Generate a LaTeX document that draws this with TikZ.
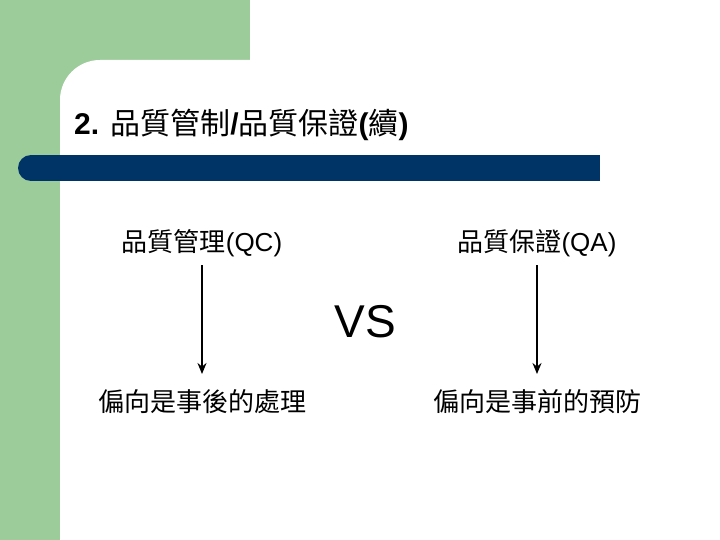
\documentclass[tikz,border=0pt]{standalone}
\usepackage{fontspec}
\setmainfont{Liberation Sans}
\newfontfamily\cjk{Noto Sans CJK TC}
\newfontfamily\cjkm{Noto Sans CJK TC Medium}
\usetikzlibrary{arrows.meta}
\definecolor{grn}{HTML}{9DCC9B}
\definecolor{navy}{HTML}{003366}
\newcommand{\cj}[1]{{\cjk #1}}
\tikzset{lbl/.style={font=\fontsize{26}{30}\selectfont, inner sep=0pt},
 arr/.style={-{Stealth[length=11pt,width=9pt]}, line width=2pt, black}}
\begin{document}
\begin{tikzpicture}[x=1pt,y=-1pt]
\useasboundingbox (0,0) rectangle (720,540);
\fill[white] (0,0) rectangle (720,540);
\fill[grn] (0,0) rectangle (250,100);
\fill[grn] (0,0) rectangle (60,540);
\fill[white, rounded corners=40pt] (60,60) rectangle (800,620);
\fill[navy] (30,155) rectangle (600,181);
\fill[navy] (31,168) circle (13);
\node[font=\fontsize{30}{34}\selectfont, anchor=west, inner sep=0pt] (t) at (74,125) {\textbf{2.} \cj{品質管制}\textbf{/}\cj{品質保證}\textbf{(}\cj{續}\textbf{)}};
\node[lbl] (qc) at (202,243) {\cj{品質管理}(QC)};
\node[lbl] (qa) at (537,243) {\cj{品質保證}(QA)};
\node[font=\fontsize{46}{50}\selectfont, inner sep=0pt] (vs) at (365,322) {VS};
\node[lbl] (b1) at (202,402) {\cj{偏向是事後的處理}};
\node[lbl] (b2) at (537,402) {\cj{偏向是事前的預防}};
\coordinate (a1) at (202,265); \coordinate (e1) at (202,374);
\coordinate (a2) at (537,265); \coordinate (e2) at (537,374);
\draw[arr] (a1) -- (e1);
\draw[arr] (a2) -- (e2);
\end{tikzpicture}
\end{document}
